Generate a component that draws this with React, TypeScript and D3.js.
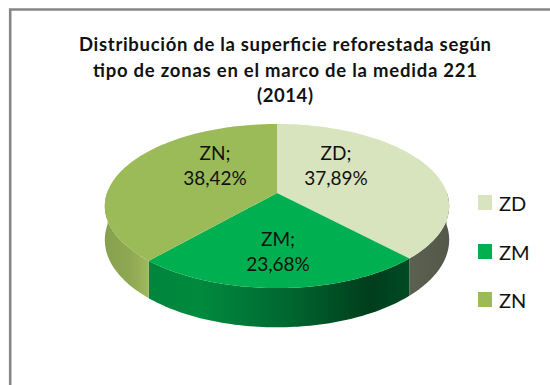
import React from "react";
import * as d3 from "d3";

const categories = ["ZD", "ZM", "ZN"];
const shares = [37.89, 23.68, 38.42];
const shareLabels = ["37,89%", "23,68%", "38,42%"];
const topColors = ["#d7e4bd", "#00b050", "#9bbb59"];
const titleLines = [
  "Distribución de la superficie reforestada según",
  "tipo de zonas en el marco de la medida 221",
  "(2014)",
];
const titleWidths = [412, 384, 56];
const labelCenters = [
  [336, 160],
  [278, 246],
  [215, 160],
];
const legendRows = [195, 244, 292];

const cx = 277, apexY = 193, R = 170, B = 80, k = 0.1586, D = 33;

function project(theta: number, drop = 0): [number, number] {
  const u = Math.sin(theta), v = Math.cos(theta), s = 1 / (1 + k * v);
  return [cx + R * u * s, apexY - B * v * s + drop * D * s];
}
function samples(a0: number, a1: number) {
  const n = Math.max(2, Math.ceil((a1 - a0) / 0.02));
  return d3.range(n + 1).map((i) => a0 + ((a1 - a0) * i) / n);
}
const pieGen = d3.pie<number>().sort(null).startAngle(0).endAngle(Math.PI * 2);
const arcs = pieGen(shares);
const line = d3.line<[number, number]>();

function sidePath(a0: number, a1: number) {
  const lo = Math.max(a0, Math.PI / 2 - 0.02), hi = Math.min(a1, (3 * Math.PI) / 2 + 0.02);
  if (hi <= lo) return null;
  const t = samples(lo, hi);
  return line([...t.map((x) => project(x)), ...t.slice().reverse().map((x) => project(x, 1))]) + "Z";
}

const sideGrads: [string, string][][] = [
  [["0", "#5c6050"], ["1", "#54584a"]],
  [["0", "#00853c"], ["0.2", "#008a3e"], ["0.55", "#00652f"], ["0.85", "#003d1c"], ["1", "#004a24"]],
  [["0", "#87a04c"], ["0.6", "#8fa852"], ["1", "#a0ba5e"]],
];
const gradRanges = [[409, 450], [149, 409], [104, 149]];

export default function App() {
  return (
    <svg width={550} height={385} style={{ position: "absolute", left: 0, top: 0, background: "#fff" }}
      fontFamily="Lato, 'Open Sans', sans-serif">
      <defs>
        {sideGrads.map((stops, i) => (
          <linearGradient key={i} id={`side${i}`} gradientUnits="userSpaceOnUse"
            x1={gradRanges[i][0]} x2={gradRanges[i][1]} y1={0} y2={0}>
            {stops.map(([o, c]) => <stop key={o} offset={o} stopColor={c} />)}
          </linearGradient>
        ))}
      </defs>
      <path d="M10.2 385V9.5H550" fill="none" stroke="#868686" strokeWidth={2.6} />
      <g textAnchor="middle" fontWeight={700} fontSize={18.5} fill="#111">
        {titleLines.map((t, i) => (
          <text key={t} x={285} y={51 + i * 25.5} textLength={titleWidths[i]} lengthAdjust="spacing">{t}</text>
        ))}
      </g>
      {arcs.map((a, i) => {
        const d = sidePath(a.startAngle, a.endAngle);
        return d ? <path key={i} d={d} fill={`url(#side${i})`} /> : null;
      })}
      {arcs.map((a, i) => (
        <path key={i} fill={topColors[i]}
          d={line([[cx, apexY], ...samples(a.startAngle, a.endAngle).map((t) => project(t))])! + "Z"} />
      ))}
      <g textAnchor="middle" fontSize={19} fill="#111">
        {categories.map((c, i) => (
          <g key={c}>
            <text x={labelCenters[i][0]} y={labelCenters[i][1]}>{c};</text>
            <text x={labelCenters[i][0]} y={labelCenters[i][1] + 25}>{shareLabels[i]}</text>
          </g>
        ))}
      </g>
      {categories.map((c, i) => (
        <g key={c}>
          <rect x={478} y={legendRows[i]} width={14} height={15} fill={topColors[i]} />
          <text x={499} y={legendRows[i] + 15.5} fontSize={20} fill="#111">{c}</text>
        </g>
      ))}
    </svg>
  );
}
